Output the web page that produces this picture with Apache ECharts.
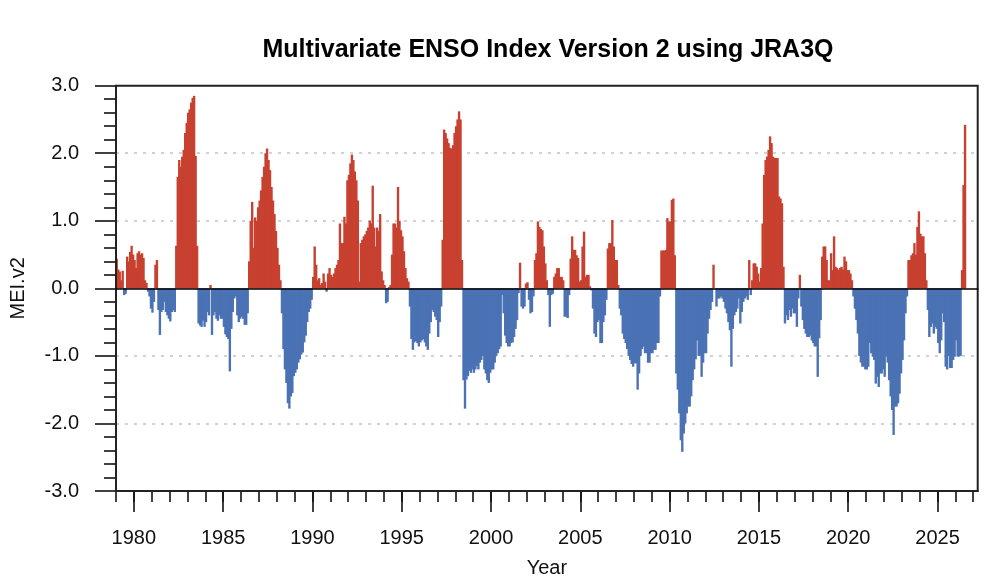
<!DOCTYPE html>
<html><head><meta charset="utf-8">
<script src="https://cdn.jsdelivr.net/npm/echarts@6/dist/echarts.min.js"></script>
<style>html,body{margin:0;padding:0;background:#fff}#c{width:1000px;height:583px}</style>
</head><body><div id="c"></div>
<script>
const chartTitle = 'Multivariate ENSO Index Version 2 using JRA3Q';
const xName = 'Year';
const yName = 'MEI.v2';
const startYear = 1979;
const axisEndYear = 2027.25;
const majorYears = [1980, 1985, 1990, 1995, 2000, 2005, 2010, 2015, 2020, 2025];
const minorYears = [1979,1980,1981,1982,1983,1984,1985,1986,1987,1988,1989,1990,1991,1992,1993,1994,1995,1996,1997,1998,1999,2000,2001,2002,2003,2004,2005,2006,2007,2008,2009,2010,2011,2012,2013,2014,2015,2016,2017,2018,2019,2020,2021,2022,2023,2024,2025,2026,2027];
const yTicks = [-3, -2, -1, 0, 1, 2, 3];

// monthly MEI.v2 values, Jan..Dec
const mei1979 = [0.44, 0.28, 0.25, 0.12, 0.26, -0.1, -0.08, 0.47, 0.4, 0.54, 0.63, 0.5];
const mei1980 = [0.42, 0.3, 0.52, 0.55, 0.5, 0.52, 0.45, 0.12, 0.08, -0.05, -0.12, -0.3];
const mei1981 = [-0.36, -0.2, 0.35, 0.42, -0.32, -0.69, -0.35, -0.32, -0.2, -0.35, -0.4, -0.45];
const mei1982 = [-0.49, -0.35, -0.32, -0.35, 0.63, 1.65, 1.9, 1.8, 1.95, 2.05, 2.3, 2.45];
const mei1983 = [2.6, 2.65, 2.75, 2.82, 2.85, 1.96, 0.63, -0.52, -0.55, -0.57, -0.48, -0.57];
const mei1984 = [-0.5, -0.35, -0.4, 0.05, -0.69, -0.4, -0.35, -0.45, -0.48, -0.4, -0.45, -0.45];
const mei1985 = [-0.57, -0.68, -0.72, -0.75, -1.23, -0.6, -0.35, -0.15, -0.12, -0.4, -0.5, -0.45];
const mei1986 = [-0.42, -0.45, -0.54, -0.54, -0.37, 0.4, 1.0, 1.28, 0.6, 1.05, 1.0, 1.2];
const mei1987 = [1.3, 1.45, 1.65, 1.8, 2.0, 2.07, 1.9, 1.75, 1.5, 1.3, 1.1, 0.85];
const mei1988 = [0.6, 0.35, 0.12, -0.37, -0.9, -1.2, -1.4, -1.7, -1.78, -1.6, -1.55, -1.3];
const mei1989 = [-1.25, -1.2, -1.1, -1.05, -0.98, -0.95, -0.8, -0.7, -0.5, -0.35, -0.3, -0.17];
const mei1990 = [0.17, 0.62, 0.35, 0.12, 0.15, 0.05, 0.08, 0.22, 0.1, -0.05, 0.22, 0.3];
const mei1991 = [0.2, 0.17, 0.22, 0.3, 0.35, 0.42, 0.96, 0.67, 0.67, 1.06, 0.96, 1.6];
const mei1992 = [1.68, 1.85, 1.98, 1.9, 1.73, 1.6, 1.3, 0.1, 0.67, 0.72, 0.77, 0.8];
const mei1993 = [0.85, 0.9, 1.0, 0.96, 1.52, 0.9, 0.62, 0.9, 0.85, 1.1, 0.25, 0.12];
const mei1994 = [0.05, -0.22, -0.2, 0.02, 0.05, 0.5, 0.96, 0.96, 0.9, 1.5, 1.0, 0.86];
const mei1995 = [0.77, 0.55, 0.3, 0.15, 0.1, -0.27, -0.75, -0.91, -0.8, -0.78, -0.81, -0.86];
const mei1996 = [-0.8, -0.77, -0.75, -0.8, -0.86, -0.91, -0.67, -0.5, -0.32, -0.35, -0.42, -0.47];
const mei1997 = [-0.72, -0.5, -0.27, 0.72, 2.35, 2.3, 2.22, 2.15, 2.08, 2.07, 2.12, 2.3];
const mei1998 = [2.4, 2.5, 2.62, 2.5, 0.42, -1.36, -1.78, -1.35, -1.3, -1.22, -1.25, -1.2];
const mei1999 = [-1.25, -1.2, -1.15, -1.2, -1.1, -1.06, -1.0, -1.2, -1.26, -1.36, -1.4, -1.25];
const mei2000 = [-1.2, -1.2, -1.1, -1.0, -0.96, -0.9, -0.86, -0.1, -0.37, -0.7, -0.81, -0.86];
const mei2001 = [-0.86, -0.81, -0.8, -0.72, -0.6, -0.47, -0.07, 0.38, -0.27, -0.3, -0.27, 0.07];
const mei2002 = [0.09, -0.17, -0.37, -0.35, -0.12, 0.42, 0.52, 0.99, 0.91, 0.88, 0.86, 0.62];
const mei2003 = [0.37, 0.12, -0.1, -0.57, -0.1, -0.08, 0.17, 0.22, 0.3, 0.3, 0.17, 0.17];
const mei2004 = [0.12, -0.42, -0.42, -0.44, -0.1, 0.44, 0.77, 0.57, 0.57, 0.49, 0.45, 0.1];
const mei2005 = [0.12, 0.62, 0.84, 0.17, 0.2, 0.2, 0.03, -0.03, -0.3, -0.67, -0.72, -0.5];
const mei2006 = [-0.47, -0.81, -0.81, -0.5, -0.4, -0.17, 0.59, 0.67, 0.67, 1.01, 0.62, 0.42];
const mei2007 = [0.42, 0.05, -0.3, -0.4, -0.67, -0.75, -0.81, -0.9, -1.0, -1.06, -1.12, -1.16];
const mei2008 = [-1.11, -1.11, -1.5, -1.26, -1.0, -0.9, -0.86, -0.96, -0.96, -1.1, -1.1, -0.96];
const mei2009 = [-0.96, -0.91, -0.91, -0.81, -0.81, -0.12, 0.56, 0.56, 0.56, 0.57, 1.04, 0.99];
const mei2010 = [0.99, 1.31, 1.33, 0.49, -1.26, -1.5, -1.85, -2.25, -2.42, -2.15, -2.0, -1.85];
const mei2011 = [-1.75, -1.75, -1.6, -1.36, -1.2, -1.05, -0.77, -1.0, -1.0, -1.31, -1.1, -0.96];
const mei2012 = [-0.96, -0.67, -0.45, -0.32, -0.2, 0.35, 0.0, -0.27, -0.15, -0.15, -0.12, -0.15];
const mei2013 = [-0.2, -0.3, -0.37, -0.5, -0.62, -1.16, -0.6, -0.4, -0.35, -0.3, -0.15, -0.52];
const mei2014 = [-0.35, -0.2, -0.15, -0.12, -0.17, 0.42, -0.1, 0.12, 0.37, 0.37, 0.32, 0.22];
const mei2015 = [0.1, 0.3, 0.96, 1.68, 1.9, 1.95, 2.05, 2.25, 2.15, 1.95, 1.93, 1.93];
const mei2016 = [1.93, 1.36, 1.33, 1.26, 0.32, -0.52, -0.4, -0.47, -0.32, -0.42, -0.3, -0.37];
const mei2017 = [-0.37, -0.57, -0.15, 0.2, -0.27, -0.47, -0.6, -0.67, -0.72, -0.72, -0.7, -0.77];
const mei2018 = [-0.81, -0.86, -0.86, -1.31, -0.74, -0.47, 0.47, 0.62, 0.62, 0.42, 0.12, 0.12];
const mei2019 = [0.52, 0.27, 0.77, 0.32, 0.3, 0.27, 0.3, 0.32, 0.28, 0.47, 0.4, 0.27];
const mei2020 = [0.27, 0.22, 0.12, -0.12, -0.3, -0.47, -0.67, -1.0, -1.1, -1.16, -1.16, -1.2];
const mei2021 = [-1.2, -1.16, -0.81, -0.96, -1.01, -1.06, -1.41, -1.31, -1.46, -1.26, -1.26, -1.2];
const mei2022 = [-1.31, -1.01, -1.1, -1.36, -1.6, -1.8, -2.17, -1.75, -1.75, -1.7, -1.56, -1.26];
const mei2023 = [-1.06, -0.77, -0.37, -0.12, 0.42, 0.42, 0.49, 0.52, 0.67, 0.5, 0.91, 1.14];
const mei2024 = [0.81, 0.77, 0.77, 0.52, 0.12, -0.32, -0.72, -0.57, -0.52, -0.67, -0.57, -0.6];
const mei2025 = [-0.81, -0.96, -0.77, -0.37, -0.5, -1.16, -1.2, -1.0, -1.18, -1.18, -1.06, -1.01];
const mei2026 = [-0.77, -1.01, -1.01, -1.0, 0.27, 1.53, 2.42];

const yearly = [mei1979, mei1980, mei1981, mei1982, mei1983, mei1984, mei1985, mei1986, mei1987, mei1988,
  mei1989, mei1990, mei1991, mei1992, mei1993, mei1994, mei1995, mei1996, mei1997, mei1998,
  mei1999, mei2000, mei2001, mei2002, mei2003, mei2004, mei2005, mei2006, mei2007, mei2008,
  mei2009, mei2010, mei2011, mei2012, mei2013, mei2014, mei2015, mei2016, mei2017, mei2018,
  mei2019, mei2020, mei2021, mei2022, mei2023, mei2024, mei2025, mei2026];
const values = [].concat(...yearly);
const positives = values.map(v => (v >= 0 ? v : '-'));
const negatives = values.map(v => (v < 0 ? v : '-'));

const nMonths = Math.round((axisEndYear - startYear) * 12);
const months = [];
for (let i = 0; i < nMonths; i++) {
  const y = startYear + Math.floor(i / 12);
  const m = (i % 12) + 1;
  months.push(y + '-' + (m < 10 ? '0' + m : m));
}

const RED = '#c8402f';
const BLUE = '#4a72b4';
const FONT = 'Liberation Sans, Arial, Helvetica, sans-serif';

const chart = echarts.init(document.getElementById('c'), null, { renderer: 'canvas' });
chart.setOption({
  backgroundColor: '#fff',
  animation: false,
  graphic: [{
    type: 'text', x: 548, y: 50, z: 10,
    style: { text: chartTitle, font: 'bold 25px ' + FONT, fill: '#000', textAlign: 'center', textVerticalAlign: 'middle' }
  }],
  grid: { left: 115.7, right: 22.3, top: 85.7, bottom: 91.3, show: true, borderColor: '#222', borderWidth: 2, backgroundColor: 'transparent', z: 5 },
  xAxis: [
    {
      type: 'category', data: months, boundaryGap: true, z: 10,
      axisLine: { show: true, onZero: true, lineStyle: { color: '#000', width: 1.6 } },
      axisTick: { show: false }, axisLabel: { show: false }, splitLine: { show: false }
    },
    {
      type: 'value', min: startYear, max: axisEndYear, position: 'bottom',
      name: xName, nameLocation: 'middle', nameGap: 67,
      nameTextStyle: { fontFamily: FONT, fontSize: 20, color: '#111' },
      axisLine: { show: true, onZero: false, lineStyle: { color: '#222', width: 2 } },
      axisTick: { show: true, customValues: majorYears, length: 21, lineStyle: { color: '#111', width: 1.6 } },
      axisLabel: { show: true, customValues: majorYears, margin: 37, fontFamily: FONT, fontSize: 20, color: '#111',
        formatter: v => String(Math.round(v)) },
      splitLine: { show: false }
    },
    {
      type: 'value', min: startYear, max: axisEndYear, position: 'bottom',
      axisLine: { show: false, onZero: false },
      axisTick: { show: true, customValues: minorYears, length: 11, lineStyle: { color: '#111', width: 1.6 } },
      axisLabel: { show: false }, splitLine: { show: false }
    }
  ],
  yAxis: {
    type: 'value', min: -3, max: 3, interval: 1,
    name: yName, nameLocation: 'middle', nameGap: 88, nameRotate: 90,
    nameTextStyle: { fontFamily: FONT, fontSize: 20, color: '#111' },
    axisLine: { show: true, lineStyle: { color: '#222', width: 2 } },
    axisTick: { show: true, length: 21, lineStyle: { color: '#111', width: 1.6 } },
    minorTick: { show: true, splitNumber: 5, length: 12, lineStyle: { color: '#111', width: 1.6 } },
    axisLabel: { margin: 37, fontFamily: FONT, fontSize: 20, color: '#111', formatter: v => v.toFixed(1) },
    splitLine: { show: true, lineStyle: { type: [3, 6], width: 1.5,
      color: yTicks.map(t => (t === 0 || Math.abs(t) === 3) ? 'rgba(0,0,0,0)' : '#c4c4c4') } }
  },
  series: [
    {
      name: 'positive', type: 'bar', xAxisIndex: 0, yAxisIndex: 0, data: positives,
      barWidth: '160%', barGap: '-100%',
      itemStyle: { color: RED, borderWidth: 0 },
      emphasis: { disabled: true }
    },
    {
      name: 'negative', type: 'bar', xAxisIndex: 0, yAxisIndex: 0, data: negatives,
      barWidth: '160%', barGap: '-100%',
      itemStyle: { color: BLUE, borderWidth: 0 },
      emphasis: { disabled: true }
    }
  ]
});
</script></body></html>
